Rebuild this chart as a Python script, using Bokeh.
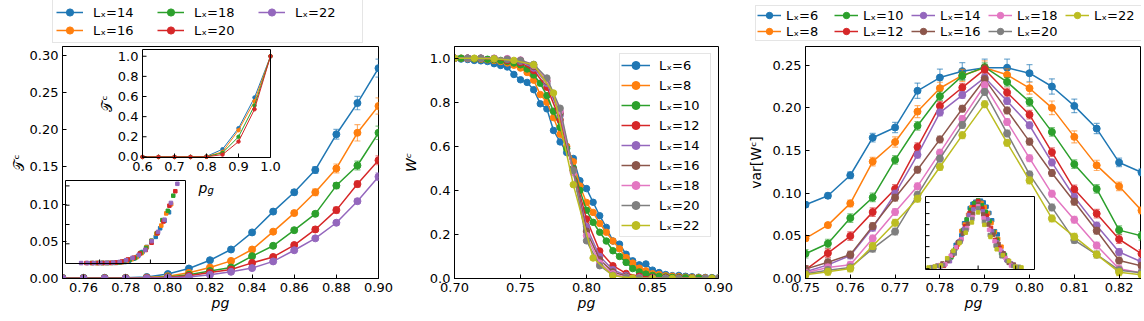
import numpy as np
from bokeh.plotting import figure
from bokeh.models import (Row, Column, Spacer, Legend, LegendItem, Range1d, FixedTicker,
                          NumeralTickFormatter)
from bokeh.core.properties import value
from bokeh.embed import file_html
from bokeh.resources import INLINE

FONT = "DejaVu Sans"
COLORS = ["#1f77b4", "#ff7f0e", "#2ca02c", "#d62728", "#9467bd",
          "#8c564b", "#e377c2", "#7f7f7f", "#bcbd22"]

# ---------------- data : panel 1 (T^c vs p_g) ----------------
p1_pg = [0.75, 0.76, 0.77, 0.78, 0.79, 0.80, 0.81, 0.82, 0.83, 0.84,
         0.85, 0.86, 0.87, 0.88, 0.89, 0.90]
p1_L = [14, 16, 18, 20, 22]
T_L14 = [0.001, 0.001, 0.001, 0.001, 0.002, 0.006, 0.0134, 0.0246, 0.039, 0.062, 0.090, 0.116, 0.146, 0.194, 0.236, 0.283]
T_L16 = [0.0005, 0.0005, 0.0005, 0.0007, 0.0012, 0.003, 0.0076, 0.0148, 0.0237, 0.039, 0.063, 0.088, 0.116, 0.148, 0.196, 0.232]
T_L18 = [0.0003, 0.0003, 0.0003, 0.0004, 0.0008, 0.002, 0.005, 0.010, 0.0148, 0.030, 0.044, 0.065, 0.087, 0.125, 0.152, 0.196]
T_L20 = [0.0002, 0.0002, 0.0002, 0.0003, 0.0006, 0.0015, 0.0036, 0.008, 0.012, 0.021, 0.029, 0.045, 0.066, 0.092, 0.127, 0.159]
T_L22 = [0.0001, 0.0001, 0.0001, 0.0002, 0.0004, 0.001, 0.002, 0.005, 0.009, 0.014, 0.023, 0.038, 0.054, 0.075, 0.104, 0.137]
dT_L14 = [0.0003, 0.0003, 0.0003, 0.0003, 0.0004, 0.0006, 0.001, 0.0015, 0.002, 0.0025, 0.003, 0.0035, 0.0045, 0.0065, 0.009, 0.012]
dT_L16 = [0.0002, 0.0002, 0.0002, 0.0002, 0.0003, 0.0005, 0.0008, 0.001, 0.0015, 0.002, 0.0025, 0.003, 0.0045, 0.006, 0.011, 0.011]
dT_L18 = [0.0002, 0.0002, 0.0002, 0.0002, 0.0002, 0.0004, 0.0006, 0.0008, 0.001, 0.0015, 0.002, 0.0025, 0.003, 0.004, 0.006, 0.009]
dT_L20 = [0.0001, 0.0001, 0.0001, 0.0001, 0.0002, 0.0003, 0.0005, 0.0007, 0.001, 0.0012, 0.0015, 0.002, 0.003, 0.004, 0.004, 0.006]
dT_L22 = [0.0001, 0.0001, 0.0001, 0.0001, 0.0002, 0.0003, 0.0004, 0.0006, 0.0008, 0.001, 0.0012, 0.0015, 0.002, 0.003, 0.003, 0.005]
p1_T = [T_L14, T_L16, T_L18, T_L20, T_L22]
p1_dT = [dT_L14, dT_L16, dT_L18, dT_L20, dT_L22]

# inset A (wide p_g range)
pA_pg = [0.60, 0.65, 0.70, 0.75, 0.80, 0.85, 0.90, 0.95, 1.00]
TA_1 = [0.0, 0.0, 0.0, 0.0, 0.005, 0.076, 0.285, 0.59, 1.0]
TA_2 = [0.0, 0.0, 0.0, 0.0, 0.003, 0.050, 0.265, 0.553, 1.0]
TA_3 = [0.0, 0.0, 0.0, 0.0, 0.002, 0.040, 0.200, 0.510, 1.0]
TA_4 = [0.0, 0.0, 0.0, 0.0, 0.001, 0.023, 0.152, 0.473, 1.0]
pA_T = [TA_1, TA_2, TA_3, TA_4]
pA_xticks = [0.6, 0.7, 0.8, 0.9, 1.0]
pA_yticks = [0.0, 0.2, 0.4, 0.6, 0.8, 1.0]

# inset B: scaling collapse of the panel-1 data
PC_T = 0.858
INV_NU_T = 0.82
EXP_T = 2.59

# ---------------- data : panel 2 (W^c vs p_g) ----------------
p2_L = [6, 8, 10, 12, 14, 16, 18, 20, 22]
pg_step005 = [0.700, 0.705, 0.710, 0.715, 0.720, 0.725, 0.730, 0.735, 0.740, 0.745,
              0.750, 0.755, 0.760, 0.765, 0.770, 0.775, 0.780, 0.785, 0.790, 0.795,
              0.800, 0.805, 0.810, 0.815, 0.820, 0.825, 0.830, 0.835, 0.840, 0.845,
              0.850, 0.855, 0.860, 0.865, 0.870, 0.875, 0.880, 0.885, 0.890, 0.895, 0.900]
pg_step010 = [0.70, 0.71, 0.72, 0.73, 0.74, 0.75, 0.76, 0.77, 0.78, 0.79, 0.80,
              0.81, 0.82, 0.83, 0.84, 0.85, 0.86, 0.87, 0.88, 0.89, 0.90]
pg_step015 = [0.700, 0.715, 0.730, 0.745, 0.760, 0.775, 0.790, 0.805, 0.820,
              0.835, 0.850, 0.865, 0.880, 0.895]
W_L6 = [1.0, 0.996, 0.994, 0.99, 0.988, 0.985, 0.975, 0.967, 0.96, 0.926,
        0.902, 0.89, 0.857, 0.793, 0.77, 0.672, 0.62, 0.572, 0.545, 0.444,
        0.408, 0.346, 0.285, 0.232, 0.17, 0.156, 0.11, 0.08, 0.062, 0.066,
        0.038, 0.027, 0.018, 0.013, 0.014, 0.01, 0.008, 0.006, 0.005, 0.004, 0.003]
W_L8 = [1.0, 1.0, 0.998, 0.997, 0.995, 0.993, 0.99, 0.985, 0.978, 0.968,
        0.955, 0.935, 0.90, 0.835, 0.80, 0.73, 0.655, 0.60, 0.53, 0.42,
        0.345, 0.30, 0.25, 0.21, 0.17, 0.135, 0.095, 0.07, 0.047, 0.035,
        0.022, 0.018, 0.012, 0.01, 0.008, 0.006, 0.005, 0.004, 0.003, 0.002, 0.002]
W_L10 = [1.0, 1.0, 1.0, 0.998, 0.997, 0.995, 0.993, 0.99, 0.985, 0.978,
         0.97, 0.951, 0.924, 0.886, 0.83, 0.759, 0.686, 0.59, 0.50, 0.40,
         0.31, 0.255, 0.21, 0.17, 0.126, 0.10, 0.073, 0.045, 0.03, 0.02,
         0.014, 0.01, 0.007, 0.005, 0.004, 0.003, 0.002, 0.002, 0.001, 0.001, 0.001]
W_L12 = [1.0, 1.0, 0.999, 0.997, 0.99, 0.98, 0.944, 0.868, 0.72, 0.49, 0.27,
         0.125, 0.058, 0.023, 0.01, 0.005, 0.003, 0.002, 0.001, 0.0, 0.0]
W_L14 = [1.0, 1.0, 1.0, 0.998, 0.995, 0.986, 0.955, 0.885, 0.74, 0.49, 0.235,
         0.10, 0.04, 0.014, 0.005, 0.002, 0.001, 0.0, 0.0, 0.0, 0.0]
W_L16 = [1.0, 1.0, 1.0, 0.999, 0.996, 0.99, 0.962, 0.895, 0.75, 0.495, 0.215,
         0.085, 0.03, 0.01, 0.003, 0.001, 0.0, 0.0, 0.0, 0.0, 0.0]
W_L18 = [1.0, 1.0, 1.0, 1.0, 0.998, 0.992, 0.968, 0.90, 0.76, 0.48, 0.195,
         0.07, 0.022, 0.006, 0.002, 0.001, 0.0, 0.0, 0.0, 0.0, 0.0]
W_L20 = [1.0, 1.0, 1.0, 0.998, 0.995, 0.99, 0.972, 0.91, 0.773, 0.49, 0.171,
         0.058, 0.015, 0.004, 0.001, 0.0, 0.0, 0.0, 0.0, 0.0, 0.0]
W_L22 = [1.0, 1.0, 0.997, 0.99, 0.97, 0.842, 0.426, 0.093, 0.012, 0.002,
         0.0, 0.0, 0.0, 0.0]
p2_x = [pg_step005, pg_step005, pg_step005, pg_step010, pg_step010,
        pg_step010, pg_step010, pg_step010, pg_step015]
p2_W = [W_L6, W_L8, W_L10, W_L12, W_L14, W_L16, W_L18, W_L20, W_L22]

# ---------------- data : panel 3 (var[W^c] vs p_g) ----------------
p3_pg = [0.750, 0.755, 0.760, 0.765, 0.770, 0.775, 0.780, 0.785,
         0.790, 0.795, 0.800, 0.805, 0.810, 0.815, 0.820, 0.825]
V_L6 = [0.0865, 0.097, 0.121, 0.165, 0.177, 0.220, 0.2355, 0.243, 0.247, 0.247, 0.2406, 0.225, 0.2023, 0.1757, 0.136, 0.1244]
V_L8 = [0.047, 0.0626, 0.088, 0.137, 0.160, 0.1956, 0.223, 0.238, 0.247, 0.2387, 0.223, 0.200, 0.166, 0.1326, 0.108, 0.0798]
V_L10 = [0.029, 0.041, 0.0708, 0.095, 0.139, 0.179, 0.2136, 0.2375, 0.2477, 0.2304, 0.207, 0.1718, 0.134, 0.105, 0.0567, 0.050]
V_L12 = [0.0102, 0.0297, 0.0497, 0.0778, 0.105, 0.154, 0.2023, 0.2238, 0.245, 0.218, 0.192, 0.148, 0.1045, 0.076, 0.046, 0.029]
V_L14 = [0.008, 0.016, 0.027, 0.0595, 0.0994, 0.145, 0.1945, 0.215, 0.2355, 0.208, 0.1796, 0.136, 0.0955, 0.062, 0.031, 0.0196]
V_L16 = [0.011, 0.019, 0.028, 0.0614, 0.0947, 0.1275, 0.163, 0.199, 0.2336, 0.197, 0.1604, 0.1236, 0.090, 0.056, 0.021, 0.0149]
V_L18 = [0.0067, 0.013, 0.016, 0.047, 0.078, 0.108, 0.1475, 0.187, 0.2265, 0.1835, 0.141, 0.0994, 0.0689, 0.0387, 0.0113, 0.0067]
V_L20 = [0.0055, 0.0098, 0.013, 0.035, 0.055, 0.098, 0.1405, 0.180, 0.2187, 0.170, 0.122, 0.0833, 0.045, 0.028, 0.0098, 0.0067]
V_L22 = [0.0043, 0.0078, 0.0117, 0.038, 0.0653, 0.0935, 0.1307, 0.168, 0.2043, 0.159, 0.115, 0.0704, 0.049, 0.028, 0.0074, 0.0043]
p3_V = [V_L6, V_L8, V_L10, V_L12, V_L14, V_L16, V_L18, V_L20, V_L22]
dV_L6 = [0.003, 0.003, 0.004, 0.005, 0.006, 0.009, 0.010, 0.010, 0.010, 0.010, 0.010, 0.009, 0.008, 0.006, 0.005, 0.004]
dV_L8 = [0.003, 0.003, 0.004, 0.005, 0.006, 0.007, 0.007, 0.007, 0.008, 0.007, 0.007, 0.008, 0.007, 0.006, 0.005, 0.004]
dV_other = [0.005, 0.005, 0.004, 0.004, 0.004, 0.004, 0.004]
p3_dV = [dV_L6, dV_L8] + [[d] * len(p3_pg) for d in dV_other]

# inset C: scaling collapse of the panel-3 data
PC_W = 0.79
INV_NU_W = 0.61

# ---------------- helpers ----------------
TOP, FT, FH, BB = 44, 2, 232, 40   # legend strip, frame top border, frame height, bottom border


def style_axis(ax, label_standoff=2):
    ax.major_tick_in = 4
    ax.major_tick_out = 0
    ax.minor_tick_in = 0
    ax.minor_tick_out = 0
    ax.axis_line_color = "black"
    ax.major_tick_line_color = "black"
    ax.major_label_standoff = 4
    ax.major_label_text_font = FONT
    ax.major_label_text_font_size = "13px"
    ax.major_label_text_color = "black"
    ax.axis_label_text_font = FONT
    ax.axis_label_text_font_style = "normal"
    ax.axis_label_text_font_size = "14px"
    ax.axis_label_text_color = "black"
    ax.axis_label_standoff = label_standoff


def make_fig(fw, xr, yr, xticks, yticks, bl, br, xfmt, yfmt, ylab, ylab_standoff):
    p = figure(frame_width=fw, frame_height=FH,
               x_range=Range1d(*xr), y_range=Range1d(*yr),
               min_border_left=bl, min_border_top=FT,
               min_border_right=br, min_border_bottom=BB,
               output_backend="svg", toolbar_location=None, tools="")
    p.border_fill_color = None
    p.background_fill_color = "white"
    p.outline_line_color = "black"
    p.outline_line_width = 1
    p.grid.visible = False
    p.xaxis.ticker = FixedTicker(ticks=xticks)
    p.yaxis.ticker = FixedTicker(ticks=yticks)
    p.xaxis.formatter = NumeralTickFormatter(format=xfmt)
    p.yaxis.formatter = NumeralTickFormatter(format=yfmt)
    style_axis(p.xaxis[0], label_standoff=0)
    style_axis(p.yaxis[0], label_standoff=ylab_standoff)
    p.yaxis[0].axis_label = ylab
    p.xaxis[0].axis_label = "pg"
    p.xaxis[0].axis_label_text_font_style = "italic"
    return p


def legend_fig(width):
    lf = figure(frame_width=width, frame_height=TOP, min_border=0,
                x_range=Range1d(0, 1), y_range=Range1d(0, 1),
                x_axis_location=None, y_axis_location=None,
                output_backend="svg", toolbar_location=None, tools="")
    lf.outline_line_color = None
    lf.border_fill_color = None
    lf.background_fill_color = None
    lf.grid.visible = False
    return lf


def legend_keys(lf, colors, labels, size=7):
    """Off-frame proxy glyphs whose only role is to draw the legend keys."""
    items = []
    for c, lab in zip(colors, labels):
        r1 = lf.line(x=[-2, -1], y=[-2, -2], line_color=c, line_width=1.5)
        r2 = lf.scatter(x=[-2], y=[-2], marker="circle", size=size, fill_color=c, line_color=c)
        items.append(LegendItem(label=lab, renderers=[r1, r2]))
    return items


def draw_series(p, x, y, err, color, size=7, lw=1.5, cap=6):
    if err is not None:
        lo = [a - e for a, e in zip(y, err)]
        hi = [a + e for a, e in zip(y, err)]
        p.segment(x0=x, y0=lo, x1=x, y1=hi, line_color=color, line_alpha=0.6, line_width=1.2)
        p.scatter(x, hi, marker="dash", size=cap, line_color=color, line_alpha=0.6, line_width=1.2)
        p.scatter(x, lo, marker="dash", size=cap, line_color=color, line_alpha=0.6, line_width=1.2)
    r1 = p.line(x, y, line_color=color, line_width=lw)
    r2 = p.scatter(x, y, marker="circle", size=size, fill_color=color, line_color=color)
    return [r1, r2]


def style_legend(lg, gw, gh, lw, standoff, pad):
    lg.label_text_font = FONT
    lg.label_text_font_size = "13px"
    lg.label_text_color = "black"
    lg.glyph_width = gw
    lg.glyph_height = gh
    lg.label_height = gh
    lg.label_width = lw
    lg.label_standoff = standoff
    lg.padding = pad
    lg.spacing = 0
    lg.margin = 0
    lg.border_line_color = "#cccccc"
    lg.border_line_width = 1
    lg.background_fill_color = "white"
    lg.background_fill_alpha = 0.8


def add_inset(p, name, fw, xlim, ylim, px, py):
    """Inset window: px = pixels from frame left, py = pixels from frame bottom."""
    sx = (xlim[1] - xlim[0]) / (px[1] - px[0])
    sy = (ylim[1] - ylim[0]) / (py[1] - py[0])
    xr = dict(p.extra_x_ranges)
    yr = dict(p.extra_y_ranges)
    xr[name] = Range1d(start=xlim[0] - px[0] * sx, end=xlim[1] + (fw - px[1]) * sx)
    yr[name] = Range1d(start=ylim[0] - py[0] * sy, end=ylim[1] + (FH - py[1]) * sy)
    p.extra_x_ranges = xr
    p.extra_y_ranges = yr
    kw = dict(x_range_name=name, y_range_name=name)
    p.quad(left=[xlim[0]], right=[xlim[1]], bottom=[ylim[0]], top=[ylim[1]],
           fill_color="white", line_color=None, **kw)
    return kw, 4 * sx, 4 * sy


def inset_axes(p, kw, tx, ty, xlim, ylim, xticks, yticks):
    p.segment(x0=xticks, y0=[ylim[0]] * len(xticks), x1=xticks,
              y1=[ylim[0] + ty] * len(xticks), line_color="black", line_width=1, **kw)
    p.segment(x0=[xlim[0]] * len(yticks), y0=yticks, x1=[xlim[0] + tx] * len(yticks),
              y1=yticks, line_color="black", line_width=1, **kw)
    p.quad(left=[xlim[0]], right=[xlim[1]], bottom=[ylim[0]], top=[ylim[1]],
           fill_color=None, line_color="black", line_width=1, **kw)


# ---------------- panel 1 ----------------
FW1 = 316
f1 = make_fig(FW1, (0.75, 0.90), (0.0, 0.3121),
              [0.76, 0.78, 0.80, 0.82, 0.84, 0.86, 0.88, 0.90],
              [0.0, 0.05, 0.10, 0.15, 0.20, 0.25, 0.30],
              62, 16, "0.00", "0.00", "𝒯ᶜ", 0)
for i, L in enumerate(p1_L):
    draw_series(f1, p1_pg, p1_T[i], p1_dT[i], COLORS[i], size=7)

# inset A
xA, yA = (0.6, 1.0), (-0.006, 1.067)
kwA, txA, tyA = add_inset(f1, "A", FW1, xA, yA, (80, 208), (121, 229))
for i, TA in enumerate(pA_T):
    f1.line(pA_pg, TA, line_color=COLORS[i], line_width=1, **kwA)
    f1.scatter(pA_pg, TA, marker="circle", size=3.5, fill_color=COLORS[i],
               line_color=COLORS[i], **kwA)
inset_axes(f1, kwA, txA, tyA, xA, yA, pA_xticks, pA_yticks)
f1.text(x=[xA[0]] * len(pA_yticks), y=pA_yticks, text=["%.1f" % t for t in pA_yticks],
        x_offset=-4, text_align="right", text_baseline="middle", text_font=value(FONT),
        text_font_size=value("13px"), text_color="black", **kwA)
f1.text(x=pA_xticks, y=[yA[0]] * len(pA_xticks), text=["%.1f" % t for t in pA_xticks],
        y_offset=4, text_align="center", text_baseline="top", text_font=value(FONT),
        text_font_size=value("13px"), text_color="black", **kwA)
f1.text(x=[xA[0]], y=[(yA[0] + yA[1]) / 2], text=["𝒯ᶜ"], angle=np.pi / 2,
        x_offset=-36, text_align="center", text_baseline="middle",
        text_font=value(FONT), text_font_size=value("14px"), text_color="black", **kwA)
f1.text(x=[(xA[0] + xA[1]) / 2], y=[yA[0]], text=["p"], x_offset=1, y_offset=30,
        text_align="right", text_baseline="alphabetic", text_font=value(FONT),
        text_font_style=value("italic"), text_font_size=value("14px"), text_color="black", **kwA)
f1.text(x=[(xA[0] + xA[1]) / 2], y=[yA[0]], text=["g"], x_offset=1, y_offset=33,
        text_align="left", text_baseline="alphabetic", text_font=value(FONT),
        text_font_style=value("italic"), text_font_size=value("10px"), text_color="black", **kwA)

# inset B (scaling collapse)
xB, yB = (-1.67, 0.69), (-2.0, 428.0)
kwB, txB, tyB = add_inset(f1, "B", FW1, xB, yB, (3, 123), (15, 98))
for i, L in enumerate(p1_L):
    xs = [(p - PC_T) * L ** INV_NU_T for p in p1_pg]
    ys = [t * L ** EXP_T for t in p1_T[i]]
    f1.scatter(xs, ys, marker="square", size=3.5, fill_color=COLORS[i],
               line_color=COLORS[i], **kwB)
inset_axes(f1, kwB, txB, tyB, xB, yB, [-1.0, 0.0], [100, 200, 300, 400])

# ---------------- panel 2 ----------------
f2 = make_fig(264, (0.70, 0.90), (0.0, 1.053),
              [0.70, 0.75, 0.80, 0.85, 0.90], [0.0, 0.2, 0.4, 0.6, 0.8, 1.0],
              60, 16, "0.00", "0.0", "Wᶜ", 8)
f2.yaxis[0].axis_label_text_font_style = "italic"
items = []
for i, L in enumerate(p2_L):
    rs = draw_series(f2, p2_x[i], p2_W[i], None, COLORS[i], size=6.5)
    items.append(LegendItem(label="Lₓ=%d" % L, renderers=rs))
lg2 = Legend(items=items, location="top_right")
style_legend(lg2, 29, 20, 50, 9, 1)
lg2.margin = 7
f2.add_layout(lg2)

# ---------------- panel 3 ----------------
FW3 = 336
f3 = make_fig(FW3, (0.75, 0.825), (0.0, 0.2719),
              [0.75, 0.76, 0.77, 0.78, 0.79, 0.80, 0.81, 0.82],
              [0.0, 0.05, 0.10, 0.15, 0.20, 0.25],
              71, 0, "0.00", "0.00", "var[Wᶜ]", 6)
for i, L in enumerate(p2_L):
    draw_series(f3, p3_pg, p3_V[i], p3_dV[i], COLORS[i], size=7)

# inset C (scaling collapse)
xC, yC = (-0.28, 0.30), (-0.003, 0.262)
kwC, txC, tyC = add_inset(f3, "C", FW3, xC, yC, (120, 229), (9, 82))
for i, L in enumerate(p2_L):
    xs = [(p - PC_W) * L ** INV_NU_W for p in p3_pg]
    f3.scatter(xs, p3_V[i], marker="square", size=3.5, fill_color=COLORS[i],
               line_color=COLORS[i], **kwC)
inset_axes(f3, kwC, txC, tyC, xC, yC, [-0.2, 0.0, 0.2],
           [0.0, 0.04, 0.08, 0.12, 0.16, 0.20, 0.24])

# ---------------- legend strips above panels 1 and 3 ----------------
lf1 = legend_fig(394)
lg1 = Legend(items=legend_keys(lf1, COLORS[:5], ["Lₓ=%d" % L for L in p1_L]),
             location=(52, 1), orientation="vertical", nrows=2)
style_legend(lg1, 27, 18, 64, 10, 3)
lf1.add_layout(lg1)

lf3 = legend_fig(407)
lg3 = Legend(items=legend_keys(lf3, COLORS, ["Lₓ=%d" % L for L in p2_L]),
             location=(21, 3), orientation="vertical", nrows=2)
style_legend(lg3, 24, 16, 48, 5, 1)
lf3.add_layout(lg3)

top_row = Row(children=[lf1, Spacer(width=340, height=TOP), lf3], spacing=0)
main_row = Row(children=[f1, f2, f3], spacing=0)
layout = Column(children=[top_row, main_row], spacing=0)

open("out.html", "w").write(file_html(layout, INLINE))
